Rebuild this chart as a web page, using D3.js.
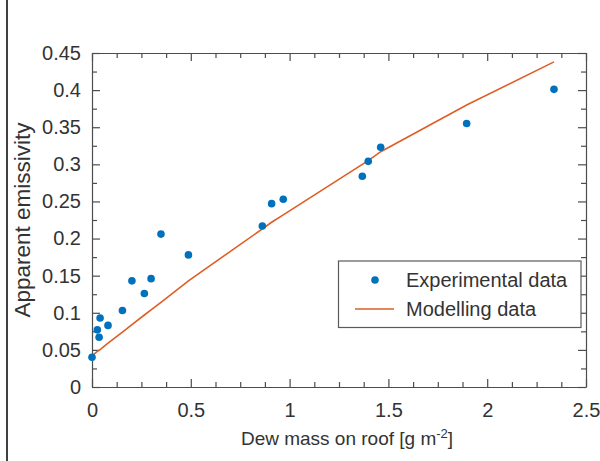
<!DOCTYPE html>
<html>
<head>
<meta charset="utf-8">
<script src="https://cdn.jsdelivr.net/npm/d3@7"></script>
<style>
  html, body { margin: 0; padding: 0; background: #fff; }
  svg { display: block; }
  text { font-family: "Liberation Sans", Arial, sans-serif; }
</style>
</head>
<body>
<svg id="chart" width="600" height="461"></svg>
<script>
// Dew mass on roof [g m-2] and measured apparent emissivity
const dewMass = [0, 0.027, 0.036, 0.041, 0.081, 0.154, 0.202, 0.265, 0.299, 0.349,
                 0.488, 0.862, 0.909, 0.968, 1.368, 1.398, 1.461, 1.896, 2.338];
const experimental = [0.040, 0.077, 0.067, 0.093, 0.083, 0.103, 0.143, 0.126, 0.146, 0.206,
                      0.178, 0.217, 0.247, 0.253, 0.284, 0.304, 0.323, 0.355, 0.401];
// Model output evaluated at the same dew masses
const modelled = [0.042, 0.048, 0.0495, 0.0505, 0.059, 0.074, 0.084, 0.097, 0.104, 0.114,
                  0.143, 0.213, 0.222, 0.232, 0.300, 0.305, 0.317, 0.380, 0.438];

const xTickLabels = [0, 0.5, 1, 1.5, 2, 2.5];
const yTickLabels = [0, 0.05, 0.1, 0.15, 0.2, 0.25, 0.3, 0.35, 0.4, 0.45];

const blue = "#0072BD", orange = "#DE5E24", axisCol = "#4d4d4d", textCol = "#333";

const svg = d3.select("#chart");
const m = { left: 92, right: 586, top: 53, bottom: 387 };

const x = d3.scaleLinear().domain([0, 2.5]).range([m.left, m.right]);
const y = d3.scaleLinear().domain([0, 0.45]).range([m.bottom, m.top]);

// page edge rule on the left
svg.append("line").attr("x1", 7).attr("x2", 7).attr("y1", 0).attr("y2", 461)
  .attr("stroke", "#000").attr("stroke-width", 1.5);

const xMinor = d3.range(0, 2.5001, 0.125);
const yMinor = d3.range(0, 0.45001, 0.025);
const isMajor = (v, list) => list.some(t => Math.abs(t - v) < 1e-6);

// axes with inward ticks, mirrored on the top and right edges
function styleAxis(g) {
  g.selectAll("path").attr("stroke", axisCol).attr("stroke-width", 1.2);
  g.selectAll(".tick line").attr("stroke", axisCol).attr("stroke-width", 1.2);
  g.selectAll("text").attr("fill", textCol).attr("font-size", 20)
    .attr("font-family", "'Liberation Sans', Arial, sans-serif");
}

const xAxis = d3.axisBottom(x).tickValues(xMinor).tickSizeOuter(0)
  .tickFormat(d => isMajor(d, xTickLabels) ? d3.format("~g")(d) : "");
svg.append("g").attr("transform", `translate(0,${m.bottom})`).call(xAxis)
  .call(g => {
    g.selectAll(".tick line").attr("y2", d => isMajor(d, xTickLabels) ? -8 : -5);
    g.selectAll(".tick text").attr("y", 16);
    styleAxis(g);
  });

const xTop = d3.axisTop(x).tickValues(xMinor).tickSizeOuter(0).tickFormat("");
svg.append("g").attr("transform", `translate(0,${m.top})`).call(xTop)
  .call(g => {
    g.selectAll(".tick line").attr("y2", d => isMajor(d, xTickLabels) ? 8 : 5);
    styleAxis(g);
  });

const yAxis = d3.axisLeft(y).tickValues(yMinor).tickSizeOuter(0)
  .tickFormat(d => isMajor(d, yTickLabels) ? d3.format("~g")(d) : "");
svg.append("g").attr("transform", `translate(${m.left},0)`).call(yAxis)
  .call(g => {
    g.selectAll(".tick line").attr("x2", d => isMajor(d, yTickLabels) ? 8 : 5);
    g.selectAll(".tick text").attr("x", -11);
    styleAxis(g);
  });

const yRight = d3.axisRight(y).tickValues(yMinor).tickSizeOuter(0).tickFormat("");
svg.append("g").attr("transform", `translate(${m.right},0)`).call(yRight)
  .call(g => {
    g.selectAll(".tick line").attr("x2", d => isMajor(d, yTickLabels) ? -8 : -5);
    styleAxis(g);
  });

// model curve
const line = d3.line().x(d => x(d[0])).y(d => y(d[1]));
svg.append("path").datum(dewMass.map((d, i) => [d, modelled[i]]))
  .attr("d", line).attr("fill", "none").attr("stroke", orange).attr("stroke-width", 1.6);

// experimental points
svg.append("g").selectAll("circle").data(dewMass.map((d, i) => [d, experimental[i]]))
  .join("circle").attr("cx", d => x(d[0])).attr("cy", d => y(d[1]))
  .attr("r", 3.8).attr("fill", blue);

// axis titles
const xt = svg.append("text").attr("x", (m.left + m.right) / 2 + 8).attr("y", 445)
  .attr("text-anchor", "middle").attr("font-size", 19).attr("fill", textCol);
xt.append("tspan").text("Dew mass on roof [g m");
xt.append("tspan").attr("dy", -7).attr("font-size", 13).text("-2");
xt.append("tspan").attr("dy", 7).text("]");

svg.append("text").attr("transform", `translate(30,${(m.top + m.bottom) / 2}) rotate(-90)`)
  .attr("text-anchor", "middle").attr("font-size", 22.5).attr("fill", textCol)
  .text("Apparent emissivity");

// legend
const lg = svg.append("g");
lg.append("rect").attr("x", 338.5).attr("y", 261).attr("width", 242.5).attr("height", 66.5)
  .attr("fill", "#fff").attr("stroke", "#5a5a5a").attr("stroke-width", 1.2);
lg.append("circle").attr("cx", 375).attr("cy", 280).attr("r", 3.8).attr("fill", blue);
lg.append("line").attr("x1", 355).attr("x2", 394).attr("y1", 309).attr("y2", 309)
  .attr("stroke", orange).attr("stroke-width", 1.6);
lg.append("text").attr("x", 406).attr("y", 287).attr("font-size", 20).attr("fill", textCol)
  .text("Experimental data");
lg.append("text").attr("x", 406).attr("y", 316).attr("font-size", 20).attr("fill", textCol)
  .text("Modelling data");
</script>
</body>
</html>
